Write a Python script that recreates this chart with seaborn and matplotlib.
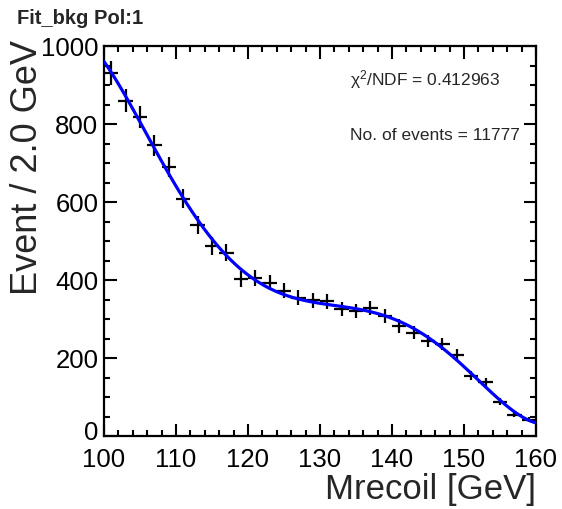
import numpy as np
import pandas as pd
import matplotlib
matplotlib.use("Agg")
import matplotlib.pyplot as plt
import matplotlib.transforms as mtransforms
from matplotlib.ticker import MultipleLocator
import seaborn as sns

# ---- data ----
bin_centers = [101, 103, 105, 107, 109, 111, 113, 115, 117, 119,
               121, 123, 125, 127, 129, 131, 133, 135, 137, 139,
               141, 143, 145, 147, 149, 151, 153, 155, 157, 159]
counts = [930, 860, 818, 745, 690, 608, 540, 487, 470, 402,
          406, 393, 372, 355, 348, 345, 325, 320, 328, 308,
          282, 265, 243, 235, 208, 155, 138, 88, 55, 42]
bin_half_width = 1.0
x_ticks = [100, 110, 120, 130, 140, 150, 160]
y_ticks = [0, 200, 400, 600, 800, 1000]
title = "Fit_bkg Pol:1"
chi2_text = "χ$^{2}$/NDF = 0.412963"
nevents_text = "No. of events = 11777"

df = pd.DataFrame({"Mrecoil": bin_centers, "Events": counts})
df["err"] = np.sqrt(df["Events"])

sns.set_style("ticks")
plt.rcParams["font.family"] = ["Liberation Sans", "DejaVu Sans"]
plt.rcParams["mathtext.fontset"] = "custom"
plt.rcParams["mathtext.rm"] = "Liberation Sans"
plt.rcParams["mathtext.it"] = "Liberation Sans"
plt.rcParams["mathtext.default"] = "regular"

W, H = 562, 509
fig = plt.figure(figsize=(W / 100, H / 100), dpi=100)
L, R, T, B = 104, 536, 46, 436
ax = fig.add_axes([L / W, (H - B) / H, (R - L) / W, (B - T) / H])

ax.set_xlim(100, 160)
ax.set_ylim(0, 1000)

ax.errorbar(df["Mrecoil"], df["Events"], xerr=bin_half_width, yerr=df["err"],
            fmt="none", ecolor="black", elinewidth=1.6, capsize=0, zorder=3)
sns.regplot(data=df, x="Mrecoil", y="Events", order=5, ci=None, scatter=False,
            truncate=False, ax=ax, line_kws=dict(color="#0000ff", lw=2.3, zorder=4))

ax.set_xlim(100, 160)
ax.set_ylim(0, 1000)
ax.set_xticks(x_ticks)
ax.set_yticks(y_ticks)
ax.xaxis.set_minor_locator(MultipleLocator(2))
ax.yaxis.set_minor_locator(MultipleLocator(50))
ax.tick_params(which="both", direction="in", top=True, right=True, width=1.5,
               colors="black", labelsize=18.5)
ax.tick_params(which="major", length=9)
ax.tick_params(which="minor", length=4.5)
ax.tick_params(axis="y", pad=4)
ax.tick_params(axis="x", pad=8.5)
for s in ax.spines.values():
    s.set_linewidth(1.6)
    s.set_color("black")
    s.set_visible(True)
ax.set_xlabel("")
ax.set_ylabel("")

# nudge the "0" y tick label up slightly so it does not collide with "100"
zero_lbl = ax.get_yticklabels()[0]
zero_lbl.set_transform(zero_lbl.get_transform() +
                       mtransforms.ScaledTranslation(0, 5 / 100, fig.dpi_scale_trans))

fig.text(17 / W, 1 - 18 / H, title, fontsize=14.5, fontweight="bold",
         ha="left", va="center")
fig.text(28 / W, 1 - 40 / H, "Event / 2.0 GeV", fontsize=26, rotation=90,
         ha="center", va="top")
fig.text(R / W, 1 - 490 / H, "Mrecoil [GeV]", fontsize=25, ha="right",
         va="center")
fig.text(350 / W, 1 - 80 / H, chi2_text, fontsize=12.5, ha="left", va="center")
fig.text(350 / W, 1 - 135 / H, nevents_text, fontsize=12.5, ha="left", va="center")

fig.savefig("out.png", dpi=100, facecolor="white")
